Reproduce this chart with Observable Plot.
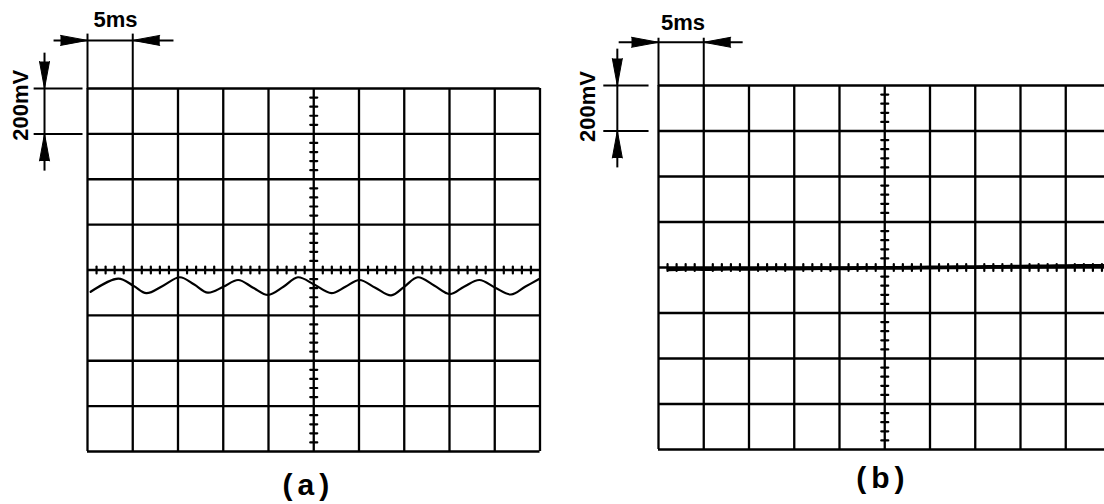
<!DOCTYPE html>
<html>
<head>
<meta charset="utf-8">
<script src="https://cdn.jsdelivr.net/npm/d3@7"></script>
<script src="https://cdn.jsdelivr.net/npm/@observablehq/plot@0.6"></script>
<style>
  html, body { margin: 0; padding: 0; background: #fff; }
  #wrap { position: relative; width: 1104px; height: 504px; overflow: hidden; background: #fff; }
  #wrap > div, #wrap > svg { position: absolute; top: 0; }
</style>
</head>
<body>
<div id="wrap"></div>
<script>
// ---- Data (time in ms, voltage in mV; 5 ms/div, 200 mV/div) ----
const gridTimes = [0, 5, 10, 15, 20, 25, 30, 35, 40, 45, 50];
const gridVolts = [-800, -600, -400, -200, 0, 200, 400, 600, 800];
const timeLabel = "5ms";
const voltLabel = "200mV";
const panelLabels = ["(a)", "(b)"];

// Panel (a): ripple waveform
const waveATime = [0.35, 3.4, 5.1, 6.5, 8.4, 10.2, 11.8, 13.3, 15.0, 16.65, 18.3, 19.95, 21.65, 23.25, 25.05, 26.95, 28.5, 30.05, 31.8, 33.55, 35.0, 36.5, 38.3, 40.05, 41.6, 43.3, 45.05, 46.8, 48.35, 49.9];
const waveAVolt = [-96, -38, -70, -102, -68, -32, -64, -100, -74, -44, -78, -110, -74, -32, -64, -102, -74, -44, -78, -112, -74, -32, -68, -106, -74, -44, -78, -108, -74, -40];

// Panel (b): nearly flat trace
const waveBTime = [1.1, 3, 5, 8, 10, 13, 15, 18, 20, 23, 25, 28, 30, 33, 35, 38, 40, 43, 45, 48, 50];
const waveBVolt = [-8, -6, -7, -5, -6, -4, -5, -3, -4, -2, -2, -1, 0, 1, 2, 3, 4, 5, 6, 7, 7];

const waveA = waveATime.map((t, i) => ({t, v: waveAVolt[i]}));
const waveB = waveBTime.map((t, i) => ({t, v: waveBVolt[i]}));

// minor graticule ticks on the centre lines (5 per division)
const minorT = d3.range(0, 50.001, 1).filter(t => t % 5 !== 0);
const minorV = d3.range(-800, 800.001, 40).filter(v => v % 200 !== 0);

const FONT = "Liberation Sans, Arial, Helvetica, sans-serif";
const INK = "#000";

const tickShape = {
  draw(ctx, l) { ctx.moveTo(0, 0); ctx.lineTo(0, -l); }
};

function panel(opts) {
  const {width, marginLeft, marginRight, marginTop, marginBottom, wave, waveWidth, ann, label} = opts;
  const heads = [
    {x: 0, y: ann.hY, r: 90},
    {x: 5, y: ann.hY, r: -90},
    {x: ann.vX, y: 800, r: 180},
    {x: ann.vX, y: 600, r: 0}
  ];
  const links = [
    {x1: ann.hX1, y1: ann.hY, x2: ann.hX2, y2: ann.hY},
    {x1: 0, y1: ann.extTop, x2: 0, y2: 800},
    {x1: 5, y1: ann.extTop, x2: 5, y2: 800},
    {x1: ann.vX, y1: ann.vY1, x2: ann.vX, y2: ann.vY2},
    {x1: ann.extL, y1: 800, x2: ann.extR, y2: 800},
    {x1: ann.extL, y1: 600, x2: ann.extR, y2: 600}
  ];
  const svg = Plot.plot({
    width, height: 504,
    marginLeft, marginRight, marginTop, marginBottom,
    x: {domain: [0, 50], axis: null},
    y: {domain: [-800, 800], axis: null},
    style: {fontFamily: FONT, background: "transparent", overflow: "visible"},
    marks: [
      Plot.ruleX(gridTimes, {stroke: INK, strokeWidth: 2.3}),
      Plot.ruleY(gridVolts, {stroke: INK, strokeWidth: 2.3}),
      Plot.vector(minorT, {x: d => d, y: 0, length: 7, rotate: 0, anchor: "middle", shape: tickShape, stroke: INK, strokeWidth: 2.2}),
      Plot.vector(minorV, {x: 25, y: d => d, length: 7, rotate: 90, anchor: "middle", shape: tickShape, stroke: INK, strokeWidth: 2.2}),
      Plot.line(wave, {x: "t", y: "v", curve: "catmull-rom", stroke: INK, strokeWidth: waveWidth}),
      Plot.link(links, {x1: "x1", y1: "y1", x2: "x2", y2: "y2", stroke: INK, strokeWidth: 2}),
      Plot.vector(heads, {x: "x", y: "y", rotate: "r", length: 27, r: 5, shape: "spike", anchor: "end", fill: INK, stroke: INK, strokeWidth: 1}),
      Plot.text([timeLabel], {x: ann.tX, y: ann.tY, text: d => d, fontSize: 22, fontWeight: "bold", fill: INK, textAnchor: "middle", lineAnchor: "middle"}),
      Plot.text([voltLabel], {x: ann.mX, y: ann.mY, text: d => d, fontSize: 22, fontWeight: "bold", fill: INK, rotate: -90, textAnchor: "middle", lineAnchor: "middle"}),
      Plot.text([label], {x: ann.lX, y: ann.lY, text: d => d, fontSize: 30, fontWeight: "bold", fill: INK, textAnchor: "middle", lineAnchor: "middle", className: "panel-label"})
    ]
  });
  d3.select(svg).selectAll("text").filter(function() { return this.textContent === label; })
    .attr("letter-spacing", "5px");
  return svg;
}

const wrap = document.getElementById("wrap");

const pA = panel({
  width: 552, marginLeft: 87, marginRight: 12.5, marginTop: 88, marginBottom: 53,
  wave: waveA, waveWidth: 2.2,
  label: panelLabels[0],
  ann: {hY: 1012, hX1: -3.75, hX2: 9.5, extTop: 1042,
        vX: -4.75, vY1: 958, vY2: 438, extL: -5.95, extR: -0.55,
        tX: 3.1, tY: 1100, mX: -7.4, mY: 726, lX: 24.4, lY: -950}
});
pA.style.left = "0px";
wrap.appendChild(pA);

const pB = panel({
  width: 580, marginLeft: 106, marginRight: 21.5, marginTop: 85, marginBottom: 55,
  wave: waveB, waveWidth: 3.8,
  label: panelLabels[1],
  ann: {hY: 990, hX1: -4.4, hX2: 9.3, extTop: 1010,
        vX: -4.55, vY1: 962, vY2: 440, extL: -6.1, extR: -1.1,
        tX: 2.7, tY: 1076, mX: -7.75, mY: 708, lX: 24.8, lY: -928}
});
pB.style.left = "552px";
wrap.appendChild(pB);
</script>
</body>
</html>
